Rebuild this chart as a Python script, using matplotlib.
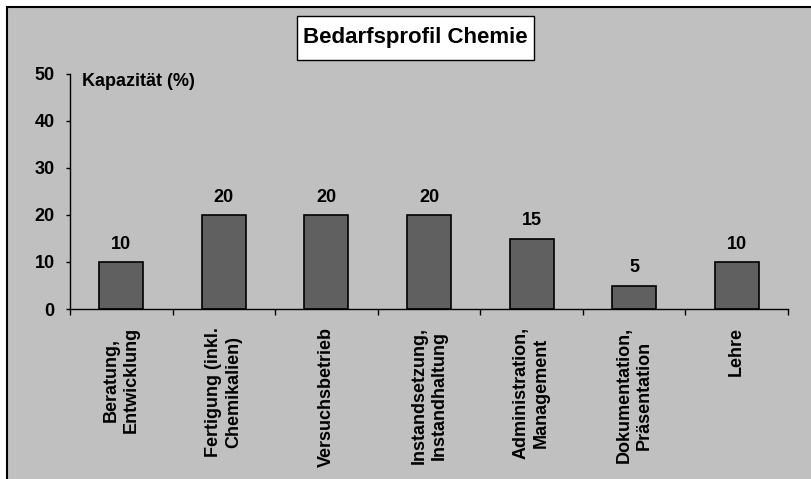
import numpy as np
import matplotlib.pyplot as plt
from matplotlib.patches import Rectangle

plt.rcParams['font.family'] = ['Liberation Sans', 'DejaVu Sans']
plt.rcParams['font.weight'] = 'bold'

categories = ['Beratung,\nEntwicklung', 'Fertigung (inkl.\nChemikalien)', 'Versuchsbetrieb',
              'Instandsetzung,\nInstandhaltung', 'Administration,\nManagement',
              'Dokumentation,\nPräsentation', 'Lehre']
values = [10, 20, 20, 20, 15, 5, 10]
y_ticks = [0, 10, 20, 30, 40, 50]

bg = '#C0C0C0'
bar_color = '#606060'

fig = plt.figure(figsize=(8.11, 4.79), dpi=100, facecolor='white')

# grey chart area with black frame (only top/left edges visible)
fig.patches.append(Rectangle((7 / 811, -0.1), 1.2, 1 - 7 / 479 + 0.1, transform=fig.transFigure,
                             facecolor=bg, edgecolor='black', linewidth=1.5, zorder=-10))

ax = fig.add_axes([70 / 811, 1 - 309 / 479, (788 - 70) / 811, (309 - 74) / 479])
ax.set_facecolor('none')
ax.set_zorder(1)

x = np.arange(len(categories))
bars = ax.bar(x, values, width=0.43, color=bar_color, edgecolor='black', linewidth=1.2)
for xi, v in zip(x, values):
    ax.annotate(str(v), (xi, v), xytext=(0, 6.5), textcoords='offset points',
                ha='center', va='bottom', fontsize=13, fontweight='bold')

ax.set_xlim(-0.5, len(categories) - 0.5)
ax.set_ylim(0, 50)
ax.set_yticks(y_ticks)
ax.set_yticklabels([str(t) for t in y_ticks], fontsize=13, fontweight='bold')
ax.set_xticks(np.arange(len(categories) + 1) - 0.5)
ax.set_xticklabels([])
ax.set_xticks(x, minor=True)
ax.set_xticklabels(categories, minor=True, rotation=90, fontsize=13, fontweight='bold',
                   ha='center', va='top', multialignment='center', linespacing=1.25)
ax.tick_params(axis='x', which='minor', length=0, pad=13)
ax.tick_params(axis='x', which='major', length=4, width=1, direction='out')
ax.tick_params(axis='y', length=3, width=1, direction='out', pad=8)

for side in ['top', 'right']:
    ax.spines[side].set_visible(False)
for side in ['left', 'bottom']:
    ax.spines[side].set_linewidth(1)

ax.text(0.017, 0.967, 'Kapazität (%)', transform=ax.transAxes, fontsize=13,
        fontweight='bold', ha='left', va='center')

# title box
fig.patches.append(Rectangle((297 / 811, 1 - 60 / 479), 237 / 811, 44 / 479,
                             transform=fig.transFigure, facecolor='white',
                             edgecolor='black', linewidth=1, zorder=2))
fig.text(415.5 / 811, 1 - 38 / 479, 'Bedarfsprofil Chemie', fontsize=16,
         fontweight='bold', ha='center', va='center', zorder=3)

fig.savefig('out.png', dpi=100, facecolor='white')
